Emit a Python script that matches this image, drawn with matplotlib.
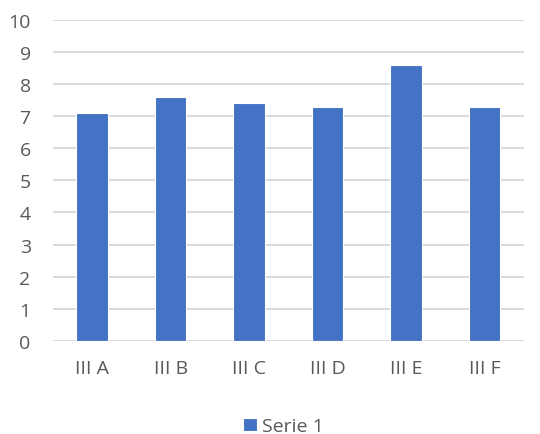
import matplotlib.pyplot as plt

# Dati del grafico
categorie = ['III A', 'III B', 'III C', 'III D', 'III E', 'III F']
serie_1 = [7.1, 7.6, 7.4, 7.3, 8.6, 7.3]

plt.rcParams['font.family'] = ['Open Sans', 'DejaVu Sans']

fig = plt.figure(figsize=(5.4, 4.35), dpi=100)
ax = fig.add_axes([0.098, 0.214, 0.872, 0.738])

ax.bar(categorie, serie_1, width=0.4, color='#4472C4', edgecolor='white',
       linewidth=0.8, label='Serie 1', zorder=3)

ax.set_ylim(0, 10)
ax.set_yticks(range(0, 11))
ax.set_xlim(-0.5, len(categorie) - 0.5)
ax.grid(axis='y', color='#D9D9D9', linewidth=1.4, zorder=0)
for s in ax.spines.values():
    s.set_visible(False)
ax.tick_params(length=0, labelsize=14, colors='#595959')
ax.tick_params(axis='x', pad=13)
ax.tick_params(axis='y', pad=16)

fig.legend(loc='center', bbox_to_anchor=(0.525, 0.018), frameon=False,
           fontsize=14, labelcolor='#595959', handlelength=0.7,
           handleheight=0.7, handletextpad=0.3)

fig.savefig('out.png', dpi=100)
